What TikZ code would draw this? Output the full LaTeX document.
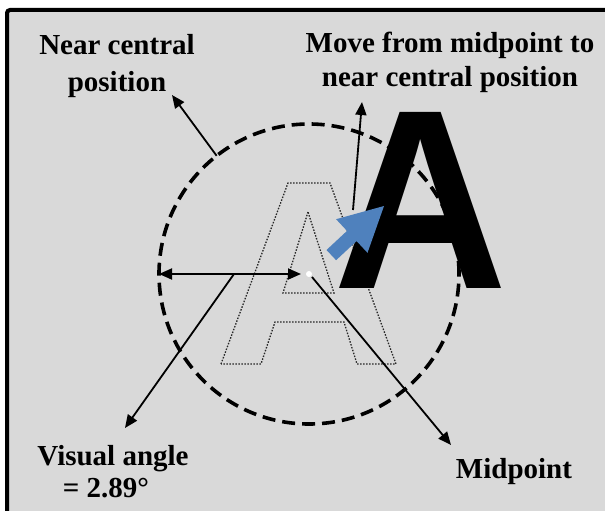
\documentclass[tikz,border=0pt]{standalone}
\usepackage{fontspec}
\setmainfont{Liberation Serif}
\newfontfamily\sansA{Liberation Sans}
\usetikzlibrary{arrows.meta}
\definecolor{bggray}{RGB}{217,217,217}
\definecolor{arrowblue}{RGB}{79,129,189}
\definecolor{outlinegray}{RGB}{40,40,40}
\begin{document}
\begin{tikzpicture}[x=1pt,y=-1pt,
  lbl/.style={font=\fontsize{29}{35}\selectfont\bfseries, inner sep=0pt, anchor=base},
  ptr/.style={line width=1.8pt, -{Triangle[length=13pt,width=11pt]}},
  dptr/.style={line width=1.8pt, {Triangle[length=13pt,width=11pt]}-{Triangle[length=13pt,width=11pt]}},
  dotline/.style={outlinegray, line width=1.3pt, dash pattern=on 1.5pt off 1.5pt},
  ring/.style={circle, draw, line width=3.6pt, dash pattern=on 13pt off 7pt, minimum size=300pt, inner sep=0pt, outer sep=0pt},
]
\useasboundingbox (0,0) rectangle (605,511);
\fill[white] (0,0) rectangle (605,511);
\begin{scope}
\clip (0,0) rectangle (605,511);
\draw[line width=4pt, fill=bggray, rounded corners=3pt] (7,10) rectangle (640,550);
\end{scope}

% dashed circle
\node[ring] (circ) at (309,274) {};

% dotted outline A
\draw[dotline] (221,364) -- (288,183) -- (330,183) -- (396,364) -- (357,364) -- (344,322) -- (275,322) -- (261,364) -- cycle;
\draw[dotline] (308,212) -- (283,293) -- (334,293) -- cycle;

% big black A
\node[anchor=base west, inner sep=0pt, outer sep=0pt] (bigA) at (333,288)
  {\smash{\scalebox{0.943}[1]{\sansA\bfseries\fontsize{256}{256}\selectfont A}}};

% blue block arrow
\fill[arrowblue] (384,206) -- (336.1,219.2) -- (347.0,230.9) -- (326.5,250.0)
  -- (336.1,260.2) -- (356.6,241.1) -- (367.5,252.8) -- cycle;

% midpoint
\node[circle, fill=white, inner sep=0pt, minimum size=6pt] (mid) at (309,274) {};

% free ends
\coordinate (hTipR) at (301,274);
\coordinate (hstart) at (234,274);
\coordinate (visTip) at (125,428);
\coordinate (midStart) at (312,277);
\coordinate (midTip) at (451,445);
\coordinate (moveStart) at (353,210);
\coordinate (moveTip) at (362,102);
\coordinate (nearTip) at (172,95);

% connectors
\draw[dptr] (circ.180) -- (hTipR);
\draw[ptr] (hstart) -- (visTip);
\draw[ptr] (midStart) -- (midTip);
\draw[ptr] (moveStart) -- (moveTip);
\draw[ptr] (circ.128) -- (nearTip);

% labels
\node[lbl] (near1) at (117,55) {Near central};
\node[lbl] (near2) at (117,92) {position};
\node[lbl] (move1) at (450,53) {Move from midpoint to};
\node[lbl] (move2) at (450,87) {near central position};
\node[lbl] (vis1) at (113,465) {Visual angle};
\node[lbl] (vis2) at (106,497) {= 2.89°};
\node[lbl] (midlbl) at (514,478) {Midpoint};
\end{tikzpicture}
\end{document}
